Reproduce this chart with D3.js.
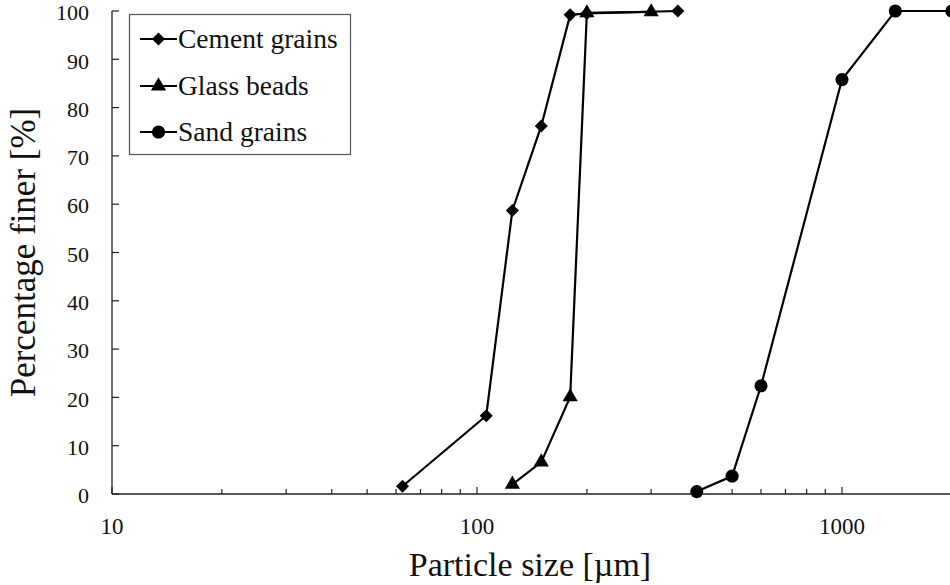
<!DOCTYPE html>
<html>
<head>
<meta charset="utf-8">
<script src="https://cdn.jsdelivr.net/npm/d3@7"></script>
<style>
  html, body { margin: 0; padding: 0; background: #fff; }
  svg { display: block; font-family: "Liberation Serif", "Times New Roman", serif; }
</style>
</head>
<body>
<svg id="chart" width="950" height="585"></svg>
<script>
// Particle size distributions: [size in µm, percentage finer]
const cementGrains = [[62.5, 1.6], [106, 16.2], [125, 58.7], [150, 76.2], [180, 99.2], [200, 99.5], [355, 100]];
const glassBeads = [[125, 2.0], [150, 6.6], [180, 20.1], [200, 99.6], [300, 99.8]];
const sandGrains = [[400, 0.5], [500, 3.7], [600, 22.4], [1000, 85.8], [1400, 100], [2000, 100]];

const seriesNames = ["Cement grains", "Glass beads", "Sand grains"];
const xMajorTicks = [10, 100, 1000];
const xMinorTicks = [20, 30, 40, 50, 60, 70, 80, 90, 200, 300, 400, 500, 600, 700, 800, 900];
const yTicks = [0, 10, 20, 30, 40, 50, 60, 70, 80, 90, 100];

const svg = d3.select("#chart");
const W = 950, H = 585;
const plotLeft = 112, plotTop = 11, plotBottom = 494;
const decade = 365;

const x = d3.scaleLog().domain([10, 2000]).range([plotLeft, plotLeft + decade * Math.log10(200)]);
const y = d3.scaleLinear().domain([0, 100]).range([plotBottom, plotTop]);

// Axes
const axisColor = "#222";
svg.append("line").attr("x1", plotLeft).attr("x2", W).attr("y1", plotBottom).attr("y2", plotBottom)
  .attr("stroke", axisColor).attr("stroke-width", 1.3);
svg.append("line").attr("x1", plotLeft).attr("x2", plotLeft).attr("y1", plotTop).attr("y2", plotBottom)
  .attr("stroke", axisColor).attr("stroke-width", 1.3);

// y ticks (inside) and labels
svg.append("g").selectAll("line").data(yTicks).join("line")
  .attr("x1", plotLeft).attr("x2", plotLeft + 7)
  .attr("y1", d => y(d)).attr("y2", d => y(d))
  .attr("stroke", axisColor).attr("stroke-width", 1.2);
svg.append("g").selectAll("text").data(yTicks).join("text")
  .attr("x", 89).attr("y", d => y(d)).attr("dy", "0.42em")
  .attr("text-anchor", "end").attr("font-size", 22).attr("fill", "#111")
  .text(d => d);

// x ticks (inside) and labels
svg.append("g").selectAll("line").data(xMajorTicks).join("line")
  .attr("x1", d => x(d)).attr("x2", d => x(d))
  .attr("y1", plotBottom).attr("y2", plotBottom - 7)
  .attr("stroke", axisColor).attr("stroke-width", 1.2);
svg.append("g").selectAll("line").data(xMinorTicks).join("line")
  .attr("x1", d => x(d)).attr("x2", d => x(d))
  .attr("y1", plotBottom).attr("y2", plotBottom - 5)
  .attr("stroke", axisColor).attr("stroke-width", 1.2);
svg.append("g").selectAll("text").data(xMajorTicks).join("text")
  .attr("x", d => x(d)).attr("y", 534)
  .attr("text-anchor", "middle").attr("font-size", 23).attr("fill", "#111")
  .text(d => d);

// Axis titles
svg.append("text").attr("x", 530).attr("y", 576)
  .attr("text-anchor", "middle").attr("font-size", 34).attr("fill", "#111")
  .text("Particle size [µm]");
svg.append("text")
  .attr("transform", `translate(35, ${(plotTop + plotBottom) / 2}) rotate(-90)`)
  .attr("text-anchor", "middle").attr("font-size", 35).attr("fill", "#111")
  .text("Percentage finer [%]");

// Markers
const symbols = [
  d3.symbol().type(d3.symbolSquare).size(85),
  d3.symbol().type(d3.symbolTriangle).size(100),
  d3.symbol().type(d3.symbolCircle).size(135)
];
const rotations = [45, 0, 0];
const datasets = [cementGrains, glassBeads, sandGrains];

const line = d3.line().x(d => x(d[0])).y(d => y(d[1]));

datasets.forEach((data, i) => {
  const g = svg.append("g");
  g.append("path").datum(data).attr("d", line)
    .attr("fill", "none").attr("stroke", "#000").attr("stroke-width", 2.2);
  g.selectAll("path.m").data(data).join("path").attr("class", "m")
    .attr("d", symbols[i])
    .attr("transform", d => `translate(${x(d[0])},${y(d[1])}) rotate(${rotations[i]})`)
    .attr("fill", "#000");
});

// Legend
const legend = svg.append("g");
legend.append("rect").attr("x", 129.5).attr("y", 14.5).attr("width", 221).attr("height", 140)
  .attr("fill", "#fff").attr("stroke", "#555").attr("stroke-width", 1.2);
const rowY = [39, 86, 132];
seriesNames.forEach((name, i) => {
  legend.append("line").attr("x1", 140).attr("x2", 177)
    .attr("y1", rowY[i]).attr("y2", rowY[i])
    .attr("stroke", "#000").attr("stroke-width", 2.2);
  legend.append("path").attr("d", symbols[i])
    .attr("transform", `translate(158.5,${rowY[i]}) rotate(${rotations[i]})`)
    .attr("fill", "#000");
  legend.append("text").attr("x", 178).attr("y", rowY[i]).attr("dy", "0.33em")
    .attr("font-size", 27.5).attr("fill", "#111")
    .text(name);
});
</script>
</body>
</html>
